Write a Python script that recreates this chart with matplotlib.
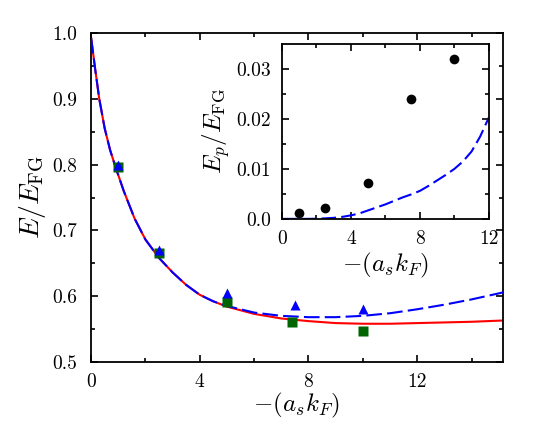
import numpy as np
import matplotlib
matplotlib.use("Agg")
import matplotlib.pyplot as plt

plt.rcParams['font.family'] = 'cmr10'
plt.rcParams['mathtext.fontset'] = 'cm'
plt.rcParams['axes.formatter.use_mathtext'] = True

''' Main panel data '''
x_curve = [0, 0.15, 0.3, 0.5, 0.7, 0.9, 1.2, 1.6, 2.0, 2.5, 3.0, 3.5, 4.0, 4.5, 5.0,
           6.0, 7.0, 8.0, 9.0, 10.0, 11.0, 12.0, 13.0, 14.0, 15.2]
e_red = [0.993, 0.945, 0.900, 0.855, 0.822, 0.796, 0.760, 0.718, 0.686, 0.658, 0.636, 0.617, 0.602, 0.592, 0.584,
         0.573, 0.566, 0.562, 0.559, 0.558, 0.558, 0.559, 0.560, 0.561, 0.563]
e_blue = [0.993, 0.945, 0.900, 0.855, 0.822, 0.796, 0.760, 0.718, 0.686, 0.658, 0.636, 0.617, 0.602, 0.592, 0.585,
          0.575, 0.570, 0.568, 0.568, 0.570, 0.574, 0.580, 0.587, 0.595, 0.606]

x_sq = [1.0, 2.5, 5.0, 7.4, 10.0]
e_sq = [0.797, 0.665, 0.591, 0.561, 0.547]
x_tri = [1.0, 2.5, 5.0, 7.5, 10.0]
e_tri = [0.800, 0.670, 0.605, 0.587, 0.580]

''' Inset data '''
x_pair = [1.0, 2.5, 5.0, 7.5, 10.0]
ep_pair = [0.0011, 0.0021, 0.0071, 0.0240, 0.0320]
x_inset = [0, 1, 1.5, 2, 2.5, 3, 3.5, 4, 4.5, 5, 5.5, 6, 6.5, 7, 7.5, 8,
           8.5, 9, 9.5, 10, 10.5, 11, 11.5, 12]
ep_inset = [0, 0, 0, 0.00003, 0.0001, 0.0002, 0.0004, 0.0007, 0.0011, 0.0017, 0.0023, 0.0029, 0.0036, 0.0043, 0.0049, 0.0056,
            0.0066, 0.0077, 0.0088, 0.0100, 0.0115, 0.0135, 0.0165, 0.0203]

fig = plt.figure(figsize=(5.36, 4.36), dpi=100)
ax = fig.add_axes([0.170, 0.170, 0.768, 0.754])

ax.plot(x_curve, e_red, color='red', lw=1.5, zorder=2)
ax.plot(x_curve, e_blue, color='blue', lw=1.5, dashes=[7.5, 2.5], zorder=3)
ax.plot(x_sq, e_sq, 's', color='#006400', ms=6.5, mec='none', zorder=4)
ax.plot(x_tri, e_tri, '^', color='blue', ms=7, mec='none', zorder=5)

ax.set_xlim(0, 15.15)
ax.set_ylim(0.5, 1.0)
ax.set_xticks([0, 4, 8, 12])
ax.set_xticks(np.arange(2, 15, 4), minor=True)
ax.set_yticks([0.5, 0.6, 0.7, 0.8, 0.9, 1.0])
ax.set_yticks(np.arange(0.55, 1.0, 0.1), minor=True)
ax.set_xticklabels(['0', '4', '8', '12'])
ax.set_yticklabels(['0.5', '0.6', '0.7', '0.8', '0.9', '1.0'])
ax.set_xlabel(r'$-(a_sk_F)$', fontsize=18, labelpad=0)
ax.set_ylabel(r'$E/E_{\rm FG}$', fontsize=20, labelpad=3)

''' Inset '''
ins = fig.add_axes([0.526, 0.498, 0.386, 0.401])
ins.plot(x_inset, ep_inset, color='blue', lw=1.5, dashes=[7, 2.5])
ins.plot(x_pair, ep_pair, 'o', color='black', ms=7, mec='none')
ins.set_xlim(0, 12)
ins.set_ylim(0, 0.035)
ins.set_xticks([0, 4, 8, 12])
ins.set_xticks([2, 6, 10], minor=True)
ins.set_yticks([0, 0.01, 0.02, 0.03])
ins.set_yticks([0.005, 0.015, 0.025], minor=True)
ins.set_xticklabels(['0', '4', '8', '12'])
ins.set_yticklabels(['0.0', '0.01', '0.02', '0.03'])
ins.set_xlabel(r'$-(a_sk_F)$', fontsize=18, labelpad=2)
ins.set_ylabel(r'$E_p/E_{\rm FG}$', fontsize=18, labelpad=3)

for a in (ax, ins):
    a.tick_params(which='both', direction='in', top=True, right=True, labelsize=14, width=1.2)
    a.tick_params(which='major', length=5)
    a.tick_params(which='minor', length=3)
    for s in a.spines.values():
        s.set_linewidth(1.3)

ax.tick_params(axis='x', which='major', pad=8)
ax.tick_params(axis='y', which='major', pad=10)
ins.tick_params(axis='x', which='major', pad=8)
ins.tick_params(axis='y', which='major', pad=8)

fig.savefig('out.png', dpi=100)
